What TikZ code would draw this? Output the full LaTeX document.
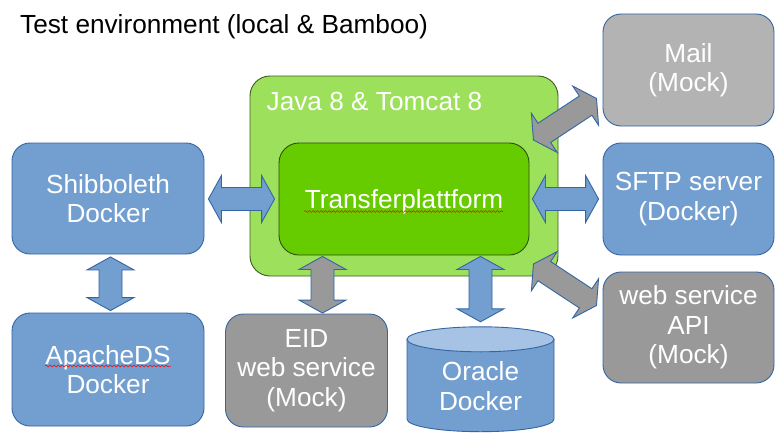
\documentclass[tikz,border=0pt]{standalone}
\usepackage{fontspec}
\setmainfont{Liberation Sans}
\usetikzlibrary{calc,decorations.pathmorphing}
\definecolor{bluefill}{HTML}{729FCF}
\definecolor{blueline}{HTML}{3465A4}
\definecolor{grayfill}{HTML}{999999}
\definecolor{lgrayfill}{HTML}{B3B3B3}
\definecolor{outergreen}{HTML}{9DE05B}
\definecolor{outerline}{HTML}{3D5C1F}
\definecolor{innergreen}{HTML}{66CC00}
\definecolor{innerline}{HTML}{2B4F0C}
\definecolor{cyltop}{HTML}{A6C3E5}
\newcommand\boxfont{\fontsize{26.2}{29.5}\selectfont}
\newcommand\arrHL{13}
\newcommand\arrHW{23.5}
\newcommand\arrSW{11.5}
\newcommand\blockarr[3][]{%
  \path[arrowbox,#1] let \p1=(#2), \p2=(#3),
    \n1={atan2(\y2-\y1,\x2-\x1)}, \n2={veclen(\x2-\x1,\y2-\y1)} in
    [shift={(\x1,\y1)}, rotate=\n1]
    (0,0) -- (\arrHL,\arrHW) -- (\arrHL,\arrSW) -- ({\n2-\arrHL},\arrSW)
    -- ({\n2-\arrHL},\arrHW) -- (\n2,0) -- ({\n2-\arrHL},-\arrHW)
    -- ({\n2-\arrHL},-\arrSW) -- (\arrHL,-\arrSW) -- (\arrHL,-\arrHW) -- cycle;}
\tikzset{
  box/.style={rounded corners=18pt, draw=blueline, line width=0.9pt, text=white,
    align=center, inner sep=0pt, font=\boxfont},
  bluebox/.style={box, fill=bluefill},
  graybox/.style={box, fill=grayfill},
  lgraybox/.style={box, fill=lgrayfill},
  arrowbox/.style={draw=blueline, line width=0.9pt, fill=bluefill},
  grayarrow/.style={fill=grayfill},
  squiggle/.style={draw=red, line width=0.5pt, decorate,
    decoration={snake, amplitude=0.9pt, segment length=4pt}},
}
\begin{document}
\begin{tikzpicture}[x=1pt,y=-1pt]
\path[fill=white] (0,0) rectangle (778,436);
% title
\node[anchor=base west, inner sep=0pt, font=\boxfont] (title) at (20,33.3) {Test environment (local \& Bamboo)};
% JVM container
\node[draw=outerline, fill=outergreen, rounded corners=20pt, line width=0.9pt,
  minimum width=308pt, minimum height=200pt, inner sep=0pt] (jvm) at (404,176) {};
\node[anchor=base west, inner sep=0pt, text=white, font=\boxfont] (jvmlabel) at (266.5,110) {Java 8 \& Tomcat 8};
\node[draw=innerline, fill=innergreen, rounded corners=20pt, line width=0.9pt,
  minimum width=250pt, minimum height=112pt, inner sep=0pt] (tp) at (404,199) {};
\node[anchor=base, inner sep=0pt, text=white, font=\boxfont] (tplabel) at ($(tp.center)+(0,9)$) {Transferplattform};
% boxes
\node[bluebox, minimum width=192pt, minimum height=111pt] (shib) at (108,198.5) {Shibboleth\\Docker};
\node[bluebox, minimum width=192pt, minimum height=113pt] (apache) at (108,369.5) {ApacheDS\\Docker};
\node[graybox, minimum width=162pt, minimum height=113pt] (eid) at (306.5,370.5) {EID\\web service\\(Mock)};
\node[lgraybox, minimum width=171pt, minimum height=112pt] (mail) at (688.5,70) {Mail\\(Mock)};
\node[bluebox, minimum width=171pt, minimum height=112pt] (sftp) at (688.5,199) {SFTP server\\(Docker)};
\node[graybox, minimum width=171pt, minimum height=111pt] (api) at (688.5,327.5) {web service\\API\\(Mock)};
% Oracle cylinder
\path node[minimum width=147pt, minimum height=104.5pt, inner sep=0pt] (ora) at (480.5,379.25) {};
\coordinate (cyltopc) at ($(ora.north)+(0,12.5)$);
\coordinate (cylbotc) at ($(ora.south)+(0,-12.5)$);
\filldraw[fill=bluefill, draw=blueline, line width=0.9pt]
  ($(cyltopc)+(-73.5,0)$) -- ($(cylbotc)+(-73.5,0)$)
  arc[start angle=180, end angle=360, x radius=73.5pt, y radius=12.5pt]
  -- ($(cyltopc)+(73.5,0)$) -- cycle;
\filldraw[fill=cyltop, draw=blueline, line width=0.9pt] (cyltopc) ellipse[x radius=73.5pt, y radius=12.5pt];
\node[text=white, align=center, font=\boxfont, inner sep=0pt] (oralabel) at ($(ora.center)+(0,7)$) {Oracle\\Docker};
% spell-check squiggles
\draw[squiggle] ($(tp.center)+(-100,12.5)$) -- ($(tp.center)+(99,12.5)$);
\draw[squiggle] ($(apache.center)+(-63,-3.5)$) -- ($(apache.center)+(63,-3.5)$);
% connector end points
\coordinate (s1) at ($(shib.east |- tp.west)+(4,0)$);
\coordinate (s2) at ($(tp.west)+(-4,0)$);
\coordinate (f1) at ($(tp.east)+(3,0)$);
\coordinate (f2) at ($(sftp.west |- tp.east)+(-4,0)$);
\coordinate (a1) at ($(shib.south)+(2.5,2.5)$);
\coordinate (a2) at ($(apache.north)+(2.5,-2)$);
\coordinate (e1) at ($(tp.south)+(-81.5,1)$);
\coordinate (e2) at ($(e1 |- eid.north)+(0,-0.5)$);
\coordinate (o1) at ($(tp.south)+(76.5,1)$);
\coordinate (o2) at ($(o1 |- ora.north)+(0,-5)$);
\coordinate (m1) at ($(jvm.east)+(-25,-36)$);
\coordinate (m2) at ($(mail.south west)+(-6,-28)$);
\coordinate (p1) at ($(jvm.east)+(-25,88)$);
\coordinate (p2) at ($(api.north west)+(-6,34)$);
% block arrows
\blockarr{s1}{s2}
\blockarr{f1}{f2}
\blockarr{a1}{a2}
\blockarr[grayarrow]{e1}{e2}
\blockarr{o1}{o2}
\blockarr[grayarrow]{m1}{m2}
\blockarr[grayarrow]{p1}{p2}
\end{tikzpicture}
\end{document}
